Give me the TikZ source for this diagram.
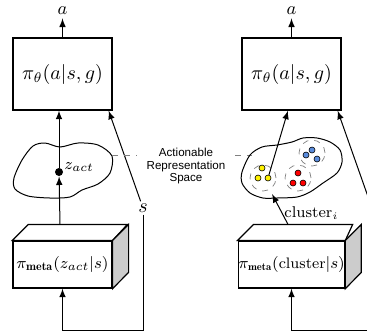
\documentclass[tikz,border=0pt]{standalone}
\usepackage{fontspec}
\newfontfamily\labelfont{Liberation Sans}
\usetikzlibrary{calc}
\tikzset{
  polbox/.style={draw, line width=0.6pt, minimum width=49.5pt, minimum height=36pt, inner sep=0pt},
  metabox/.style={draw, line width=0.6pt, fill=white, minimum width=49.5pt, minimum height=23.5pt, inner sep=0pt},
  outlabel/.style={anchor=base, inner sep=0pt, font=\fontsize{9.5}{10}\selectfont},
  blobline/.style={line width=0.5pt},
  zdot/.style={circle, fill=black, inner sep=0pt, minimum size=4pt},
  cdot/.style={circle, draw=black, line width=0.3pt, fill=#1, inner sep=0pt, minimum size=3pt},
  cluster/.style={circle, draw=gray, dashed, line width=0.35pt, minimum size=13pt, inner sep=0pt},
  leader/.style={gray, dashed, line width=0.3pt},
  arrline/.style={->, line width=0.5pt}
}
\definecolor{dotblue}{RGB}{90,140,220}
\begin{document}
\begin{tikzpicture}[x=0.5pt,y=-0.5pt,>=latex]
\useasboundingbox (0,0) rectangle (367,333);

% left: policy with z_act
\node[polbox] (pol1) at (62.5,74) {$\pi_\theta(a|s,g)$};
\node[outlabel] (a1) at (62.5,14) {$a$};
\draw[arrline, shorten >=2pt] (pol1.north) -- (a1);
\draw[blobline] plot[smooth cycle] coordinates {(14,178) (22,160) (33,146) (45,143) (60,147) (78,143) (98,145) (112,156) (110,173) (98,184) (82,190) (70,197) (50,198) (28,196) (15,189)};
\node[zdot] (zact) at (59,172) {};
\node[anchor=west, inner sep=1pt, font=\fontsize{8.5}{10}\selectfont] (zlab) at (62,167) {$z_{act}$};
\node[metabox, font=\fontsize{8}{9.6}\selectfont] (meta1) at (62.5,264.5) {$\pi_{\mathbf{meta}}(z_{act}|s)$};
\draw[line width=0.6pt, fill=white] (meta1.north west) -- ++(16,-16) -- ++(99,0) -- (meta1.north east) -- cycle;
\draw[line width=0.6pt, fill=gray!40] (meta1.north east) -- ++(16,-16) -- ++(0,48) -- (meta1.south east) -- cycle;
\draw[arrline] ($(zact |- meta1.north)+(1,-16)$) -- (zact);
\draw[arrline] (zact) -- (zact |- pol1.south);
\node[inner sep=1pt] (s1) at (143,208) {$s$};
\coordinate (loop1) at (143,330);
\draw[arrline] (s1) -- ($(pol1.south east)+(-4,0)$);
\draw[arrline] (s1.south) -- (loop1) -| (meta1.south);

% label in between
\coordinate (edge1) at (112,155);
\coordinate (edge2) at (252,155);
\node[align=center, font=\labelfont\fontsize{5.8}{6.3}\selectfont] (ars) at (186,166) {Actionable\\Representation\\Space};
\draw[leader] (edge1) -- (137,155);
\draw[leader] (235,155) -- (edge2);

% right: policy with clusters
\node[polbox] (pol2) at (291.5,74) {$\pi_\theta(a|s,g)$};
\node[outlabel] (a2) at (291.5,14) {$a$};
\draw[arrline, shorten >=2pt] (pol2.north) -- (a2);
\draw[blobline] plot[smooth cycle] coordinates {(242,172) (250,155) (262,147) (277,145) (292,142) (303,138) (317,138) (330,142) (340,150) (342,162) (337,173) (323,183) (310,192) (297,197) (277,198) (263,198) (250,193) (242,183)};
\node[cluster] (cy) at (263,178) {};
\node[cluster] (cb) at (312,153) {};
\node[cluster] (cr) at (298,178) {};
\node[cdot=yellow] (y1) at (262,168) {};
\node[cdot=yellow] (y2) at (258,178) {};
\node[cdot=yellow] (y3) at (268,178) {};
\node[cdot=dotblue] (b1) at (306,155) {};
\node[cdot=dotblue] (b2) at (312,150) {};
\node[cdot=dotblue] (b3) at (317,159) {};
\node[cdot=red] (r1) at (298,173) {};
\node[cdot=red] (r2) at (293,183) {};
\node[cdot=red] (r3) at (303,183) {};
\draw[arrline] (y3) -- ($(pol2.south)+(-3.5,0)$);
\node[metabox, font=\fontsize{7.6}{9}\selectfont] (meta2) at (291.5,264.5) {$\pi_{\mathbf{meta}}(\mathrm{cluster}|s)$};
\draw[line width=0.6pt, fill=white] (meta2.north west) -- ++(16,-16) -- ++(99,0) -- (meta2.north east) -- cycle;
\draw[line width=0.6pt, fill=gray!40] (meta2.north east) -- ++(16,-16) -- ++(0,48) -- (meta2.south east) -- cycle;
\coordinate (bot2) at (272,194);
\draw[arrline] ($(meta2.north)+(-3.5,-16)$) -- (bot2);
\node[anchor=base west, inner sep=0pt, font=\fontsize{7.8}{9}\selectfont] (clab) at (284,217) {$\mathrm{cluster}_i$};
\coordinate (s2) at (372,208);
\coordinate (loop2) at (372,330);
\draw[arrline] (s2) -- ($(pol2.south east)+(-4,0)$);
\draw[arrline] (loop2) -| (meta2.south);
\end{tikzpicture}
\end{document}
